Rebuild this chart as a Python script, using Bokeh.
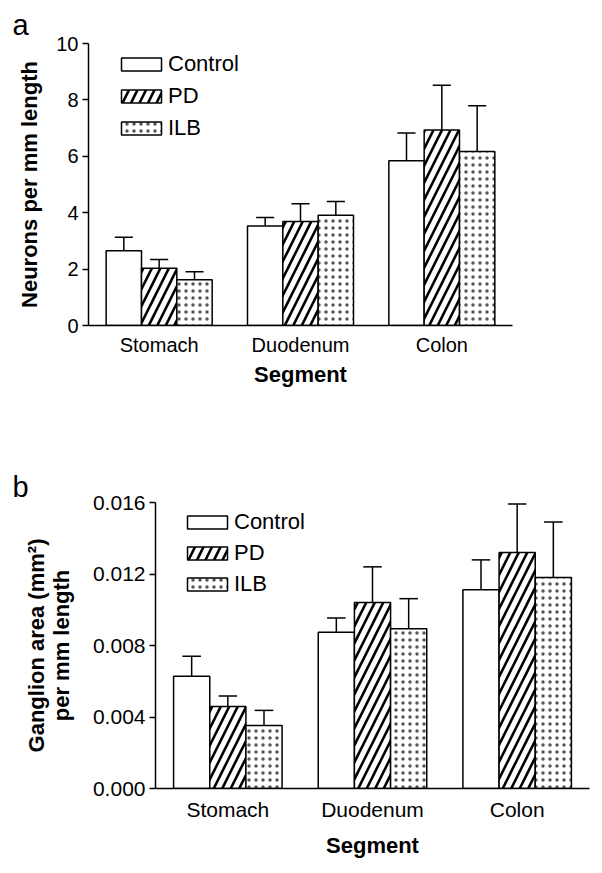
from bokeh.plotting import figure
from bokeh.models import (ColumnDataSource, FactorRange, Range1d, FixedTicker,
                          Legend, LegendItem, PrintfTickFormatter)
from bokeh.transform import dodge
from bokeh.embed import file_html
from bokeh.resources import INLINE

segments = ["Stomach", "Duodenum", "Colon"]
groups = ["Control", "PD", "ILB"]

# Panel a: neurons per mm length (mean, SEM)
neurons_control = [2.65, 3.53, 5.84]
neurons_control_sem = [0.48, 0.30, 0.99]
neurons_pd = [2.03, 3.69, 6.93]
neurons_pd_sem = [0.31, 0.63, 1.59]
neurons_ilb = [1.62, 3.91, 6.17]
neurons_ilb_sem = [0.29, 0.49, 1.62]
neurons_ticks = [0, 2, 4, 6, 8, 10]

# Panel b: ganglion area (mm^2) per mm length (mean, SEM)
ganglion_control = [0.00628, 0.00874, 0.01112]
ganglion_control_sem = [0.00112, 0.00080, 0.00167]
ganglion_pd = [0.00459, 0.01041, 0.01320]
ganglion_pd_sem = [0.00058, 0.00199, 0.00272]
ganglion_ilb = [0.00353, 0.00894, 0.01180]
ganglion_ilb_sem = [0.00084, 0.00168, 0.00311]
ganglion_ticks = [0.0, 0.004, 0.008, 0.012, 0.016]

FONT = "Liberation Sans"
styles = {
    "Control": dict(fill_color="white"),
    "PD": dict(fill_color="white", hatch_pattern="right_diagonal_line",
               hatch_color="black", hatch_scale=17, hatch_weight=2.6),
    "ILB": dict(fill_color="white", hatch_pattern="dot",
                hatch_color="#555555", hatch_scale=7, hatch_weight=0.4),
}
offsets = {"Control": -0.25, "PD": 0.0, "ILB": 0.25}


def make_panel(series, ymax, yticks, ylabel, letter, width, height,
               borders, tick_font, fmt, legend_loc, legend_spacing,
               letter_offset, letter_standoff, xlab_standoff, xtick_standoff,
               ylab_standoff):
    bl, br, bt, bb = borders
    p = figure(x_range=FactorRange(*segments, range_padding=0),
               y_range=Range1d(0, ymax), width=width, height=height,
               output_backend="svg", toolbar_location=None,
               min_border_left=bl, min_border_right=br,
               min_border_top=bt, min_border_bottom=bb)
    p.outline_line_color = None
    p.grid.visible = False
    p.background_fill_color = "white"

    p.title.text = letter
    p.title.align = "left"
    p.title.offset = letter_offset
    p.title.text_font = FONT
    p.title.text_font_style = "normal"
    p.title.text_font_size = "29px"
    p.title.text_color = "black"
    p.title.standoff = letter_standoff

    items = []
    for g in groups:
        mean, sem = series[g]
        src = ColumnDataSource(dict(seg=segments, mean=mean,
                                    upper=[m + s for m, s in zip(mean, sem)]))
        off = offsets[g]
        r = p.vbar(x=dodge("seg", off, range=p.x_range), top="mean", width=0.25,
                   source=src, line_color="black", line_width=1.5, **styles[g])
        p.segment(x0=dodge("seg", off, range=p.x_range), y0="mean",
                  x1=dodge("seg", off, range=p.x_range), y1="upper",
                  source=src, line_color="black", line_width=1.5)
        p.segment(x0=dodge("seg", off - 0.064, range=p.x_range), y0="upper",
                  x1=dodge("seg", off + 0.064, range=p.x_range), y1="upper",
                  source=src, line_color="black", line_width=1.5)
        items.append(LegendItem(label=g, renderers=[r]))

    leg = Legend(items=items, location=legend_loc, border_line_color=None,
                 background_fill_alpha=0, glyph_width=50, glyph_height=16,
                 label_text_font_size="22px", label_text_font=FONT,
                 label_text_color="black",
                 label_height=23, spacing=legend_spacing, padding=0, margin=0,
                 label_standoff=2)
    p.add_layout(leg, "center")

    ya = p.yaxis[0]
    ya.ticker = FixedTicker(ticks=yticks)
    if fmt:
        ya.formatter = PrintfTickFormatter(format=fmt)
    ya.axis_label = ylabel
    ya.axis_label_text_font = FONT
    ya.axis_label_text_font_style = "bold"
    ya.axis_label_text_font_size = "22px"
    ya.axis_label_text_color = "black"
    ya.axis_label_text_line_height = 1.0
    ya.axis_label_standoff = ylab_standoff
    ya.major_label_text_font = FONT
    ya.major_label_text_font_size = tick_font
    ya.major_label_text_color = "black"
    ya.major_tick_out = 6
    ya.major_tick_in = 0
    ya.minor_tick_out = 0
    ya.minor_tick_in = 0
    ya.major_label_standoff = 4
    ya.axis_line_width = 1.5
    ya.major_tick_line_width = 1.5

    xa = p.xaxis[0]
    xa.axis_label = "Segment"
    xa.axis_label_text_font = FONT
    xa.axis_label_text_font_style = "bold"
    xa.axis_label_text_font_size = "22px"
    xa.axis_label_text_color = "black"
    xa.axis_label_standoff = xlab_standoff
    xa.major_label_text_font = FONT
    xa.major_label_text_font_size = tick_font
    xa.major_label_text_color = "black"
    xa.major_tick_line_color = None
    xa.major_tick_out = 0
    xa.major_tick_in = 0
    xa.major_label_standoff = xtick_standoff
    xa.axis_line_width = 1.5
    return p


pa = make_panel(
    {"Control": (neurons_control, neurons_control_sem),
     "PD": (neurons_pd, neurons_pd_sem),
     "ILB": (neurons_ilb, neurons_ilb_sem)},
    10, neurons_ticks, "Neurons per mm length", "a", 602, 440,
    (88, 90, 43, 115), "20px", None, (28, 184), 6,
    -76, 6, 3, 8, 11)

pb = make_panel(
    {"Control": (ganglion_control, ganglion_control_sem),
     "PD": (ganglion_pd, ganglion_pd_sem),
     "ILB": (ganglion_ilb, ganglion_ilb_sem)},
    0.016, ganglion_ticks, "Ganglion area (mm\u00b2)\nper mm length", "b",
    602, 433, (155, 13, 62, 85), "21px", "%.3f", (27, 191), 5,
    -143, 0, 9, 9, 16)

open("out.html", "w").write(file_html([pa, pb], INLINE))
